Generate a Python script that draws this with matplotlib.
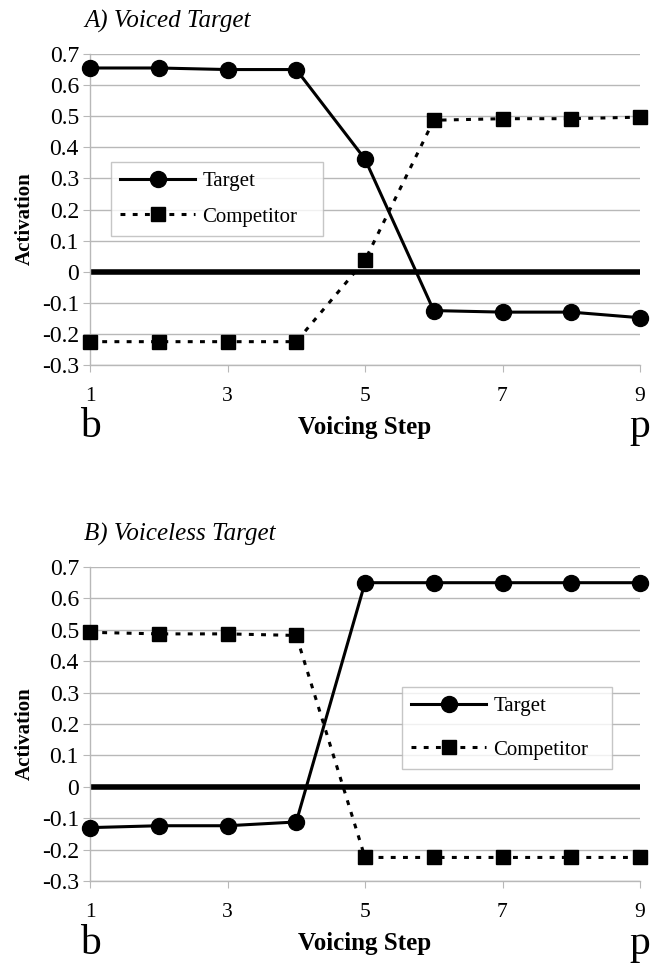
import numpy as np
import matplotlib.pyplot as plt

plt.rcParams['font.family'] = ['Liberation Serif', 'DejaVu Serif']

steps = [1, 2, 3, 4, 5, 6, 7, 8, 9]
a_target = [0.655, 0.655, 0.650, 0.650, 0.362, -0.125, -0.130, -0.130, -0.148]
a_competitor = [-0.225, -0.225, -0.225, -0.225, 0.037, 0.487, 0.492, 0.492, 0.497]
b_target = [-0.130, -0.124, -0.124, -0.112, 0.650, 0.650, 0.650, 0.650, 0.650]
b_competitor = [0.492, 0.487, 0.487, 0.482, -0.225, -0.225, -0.225, -0.225, -0.225]

y_ticks = [-0.3, -0.2, -0.1, 0, 0.1, 0.2, 0.3, 0.4, 0.5, 0.6, 0.7]
x_ticks = [1, 3, 5, 7, 9]

W, H = 659, 974
fig = plt.figure(figsize=(W / 100, H / 100), dpi=100)

GRID = '#b8b8b8'


def panel(rect, title, target, comp, leg_box, spacing):
    ax = fig.add_axes(rect)
    ax.set_xlim(1, 9)
    ax.set_ylim(-0.3, 0.7)
    ax.set_yticks(y_ticks)
    ax.set_yticklabels([('%g' % t) for t in y_ticks], fontsize=17)
    ax.set_xticks(x_ticks)
    ax.set_xticklabels([str(t) for t in x_ticks], fontsize=15.5)
    ax.yaxis.grid(True, color=GRID, lw=1.0)
    ax.set_axisbelow(True)
    for sp in ('top', 'right'):
        ax.spines[sp].set_visible(False)
    for sp in ('left', 'bottom'):
        ax.spines[sp].set_color(GRID)
        ax.spines[sp].set_linewidth(1.0)
    ax.tick_params(axis='y', length=5, color=GRID, pad=3)
    ax.tick_params(axis='x', length=5, color=GRID, pad=11)
    ax.axhline(0, color='black', lw=4, zorder=2)
    ax.plot(steps, target, color='black', lw=2.2, marker='o', ms=11.5,
            label='Target', zorder=4, clip_on=False)
    ax.plot(steps, comp, color='black', lw=2.2, ls=(0, (1.6, 2.4)),
            marker='s', ms=10.5, label='Competitor', zorder=4, clip_on=False)
    leg = ax.legend(loc='lower left', bbox_to_anchor=leg_box, mode='expand',
                    fontsize=15, frameon=True, fancybox=False,
                    edgecolor=GRID, borderpad=0.45, labelspacing=spacing,
                    handlelength=3.6, handletextpad=0.35, borderaxespad=0)
    leg.get_frame().set_linewidth(1.0)
    ax.set_ylabel('Activation', fontsize=15, fontweight='bold')
    ax.yaxis.label.set_va('center')
    ax.yaxis.set_label_coords(-0.118, 0.47)
    ax.set_xlabel('Voicing Step', fontsize=18, fontweight='bold')
    ax.xaxis.label.set_va('center')
    ax.xaxis.set_label_coords(0.5, -0.2)
    ax.text(-0.01, 1.105, title, transform=ax.transAxes, fontsize=18,
            style='italic', ha='left', va='center')
    ax.text(0.0, -0.2, 'b', transform=ax.transAxes, fontsize=30,
            ha='center', va='center')
    ax.text(1.0, -0.2, 'p', transform=ax.transAxes, fontsize=30,
            ha='center', va='center')
    return ax


def rect_px(x0, x1, ytop, ybot):
    return [x0 / W, 1 - ybot / H, (x1 - x0) / W, (ybot - ytop) / H]


panel(rect_px(90, 640, 54, 365), 'A) Voiced Target', a_target, a_competitor,
      (0.038, 0.415, 0.385, 0.24), 0.75)
panel(rect_px(90, 640, 567, 881), 'B) Voiceless Target', b_target, b_competitor,
      (0.567, 0.357, 0.382, 0.27), 1.15)

fig.savefig('out.png', dpi=100)
